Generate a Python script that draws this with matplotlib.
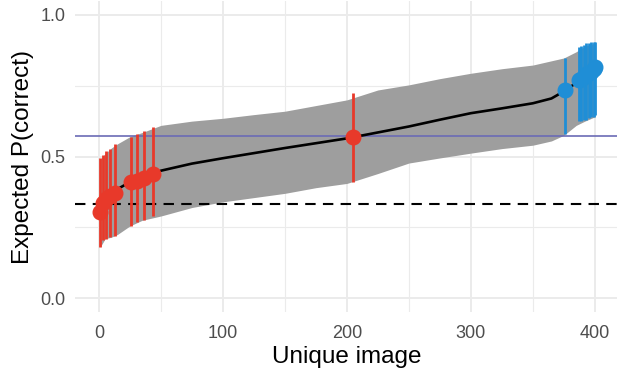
import matplotlib.pyplot as plt

plt.rcParams['font.family'] = ['Liberation Sans', 'DejaVu Sans']

# Sorted images: expected P(correct) with interval
image_x = [1, 5, 10, 15, 25, 35, 50, 75, 100, 125, 150, 175, 200, 225,
           250, 275, 300, 325, 350, 365, 375, 385, 392, 400]
image_mean = [0.300, 0.345, 0.370, 0.385, 0.410, 0.425, 0.450, 0.475, 0.494,
              0.512, 0.530, 0.547, 0.564, 0.585, 0.606, 0.630, 0.653, 0.670,
              0.688, 0.705, 0.730, 0.760, 0.785, 0.815]
image_hi = [0.490, 0.510, 0.530, 0.545, 0.570, 0.585, 0.610, 0.625, 0.635,
            0.648, 0.660, 0.680, 0.700, 0.735, 0.753, 0.775, 0.794, 0.810,
            0.823, 0.838, 0.848, 0.870, 0.890, 0.900]
image_lo = [0.180, 0.210, 0.215, 0.225, 0.255, 0.275, 0.290, 0.320, 0.340,
            0.355, 0.370, 0.390, 0.405, 0.440, 0.477, 0.495, 0.512, 0.528,
            0.540, 0.555, 0.575, 0.610, 0.625, 0.640]

# Highlighted low images (red)
red_x = [1, 3, 6, 9, 13, 26, 31, 36, 44, 205]
red_mean = [0.305, 0.335, 0.350, 0.360, 0.370, 0.410, 0.415, 0.425, 0.440, 0.568]
red_lo = [0.180, 0.205, 0.210, 0.215, 0.220, 0.255, 0.270, 0.275, 0.290, 0.410]
red_hi = [0.495, 0.505, 0.520, 0.525, 0.545, 0.570, 0.580, 0.590, 0.605, 0.725]

# Highlighted high images (blue)
blue_x = [376, 387, 389, 391, 393, 395, 397, 399, 400]
blue_mean = [0.735, 0.770, 0.775, 0.780, 0.790, 0.795, 0.800, 0.810, 0.815]
blue_lo = [0.580, 0.625, 0.625, 0.630, 0.630, 0.635, 0.640, 0.640, 0.645]
blue_hi = [0.847, 0.885, 0.890, 0.895, 0.900, 0.900, 0.905, 0.905, 0.905]

chance = 1 / 3
overall = 0.572

fig = plt.figure(figsize=(6.17, 3.79), dpi=100)
ax = fig.add_axes([0.1222, 0.176, 0.878, 0.822])

# gray band of intervals
ax.fill_between(image_x, image_lo, image_hi, color='#9e9e9e', linewidth=0, zorder=2)

# reference lines
ax.axhline(overall, color='#6b6bb5', linewidth=1.2, zorder=3)
ax.axhline(chance, color='black', linewidth=1.5, linestyle=(0, (5, 3.5)), zorder=3)

# mean curve
ax.plot(image_x, image_mean, color='black', linewidth=1.9, zorder=4)

# highlighted intervals and points
ax.vlines(red_x, red_lo, red_hi, color='#e8392a', linewidth=2.0, zorder=5)
ax.plot(red_x, red_mean, 'o', color='#e8392a', markersize=10.5, zorder=6)
ax.vlines(blue_x, blue_lo, blue_hi, color='#1f8ed6', linewidth=2.0, zorder=5)
ax.plot(blue_x, blue_mean, 'o', color='#1f8ed6', markersize=10.5, zorder=6)

ax.set_xlim(-19, 418)
ax.set_ylim(-0.05, 1.05)
ax.set_xticks([0, 100, 200, 300, 400])
ax.set_xticks([50, 150, 250, 350], minor=True)
ax.set_yticks([0.0, 0.5, 1.0])
ax.set_yticks([0.25, 0.75], minor=True)
ax.set_yticklabels(['0.0', '0.5', '1.0'])

# minimal theme
for s in ax.spines.values():
    s.set_visible(False)
ax.grid(True, which='major', color='#ebebeb', linewidth=1.4, zorder=0)
ax.grid(True, which='minor', color='#ebebeb', linewidth=0.8, zorder=0)
ax.set_axisbelow(True)
ax.tick_params(which='both', length=0, labelsize=13, labelcolor='#4d4d4d')
ax.tick_params(axis='x', pad=9)
ax.tick_params(axis='y', pad=7)

ax.set_xlabel('Unique image', fontsize=17.5, labelpad=3)
ax.set_ylabel('Expected P(correct)', fontsize=17.5, labelpad=5)

plt.savefig('out.png', dpi=100)
